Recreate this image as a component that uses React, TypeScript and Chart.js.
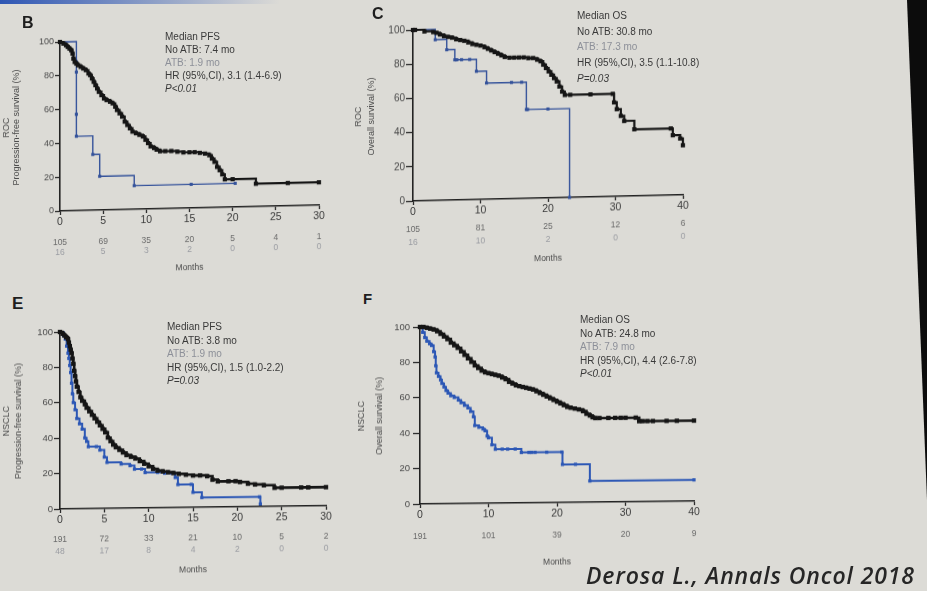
import React, { useEffect, useRef } from 'react';
import { Chart, registerables } from 'chart.js';

Chart.register(...registerables);

type Pt = [number, number];

// ---------- Panel B: ROC, progression-free survival ----------
const rocPfsNoAtb: Pt[] = [
  [0, 100], [0.4, 99], [0.7, 98], [0.9, 97], [1.1, 96], [1.3, 95], [1.45, 93], [1.55, 90], [1.7, 88], [1.9, 87],
  [2.1, 86], [2.4, 85], [2.7, 84], [3.0, 83], [3.3, 81], [3.5, 80], [3.7, 78], [3.9, 76], [4.1, 74], [4.3, 72],
  [4.5, 70], [4.8, 68], [5.1, 66], [5.4, 65], [5.8, 64], [6.1, 63], [6.4, 61], [6.6, 59], [6.9, 57], [7.2, 55],
  [7.5, 52], [7.8, 50], [8.1, 48], [8.4, 46], [8.8, 45], [9.2, 44], [9.6, 43], [9.9, 41], [10.2, 39], [10.5, 37],
  [10.9, 36], [11.2, 35], [11.6, 34], [12.2, 34], [12.9, 34], [13.6, 33.5], [14.3, 33], [15.0, 33], [15.6, 33],
  [16.2, 32.5], [16.8, 32], [17.3, 31], [17.6, 29], [17.9, 27], [18.2, 24], [18.5, 22], [18.8, 19.5], [19.1, 16.5],
  [20.0, 16.5], [22.7, 13.5], [26.4, 13.5], [30, 13.5],
];
const rocPfsAtb: Pt[] = [
  [0, 100], [1.9, 88], [1.9, 82], [1.9, 57], [1.9, 44], [3.8, 33], [4.6, 20], [8.6, 14], [15.2, 14], [20.3, 14],
];
const rocPfsTicks = [0, 5, 10, 15, 20, 25, 30];
const rocPfsRiskNoAtb = [105, 69, 35, 20, 5, 4, 1];
const rocPfsRiskAtb = [16, 5, 3, 2, 0, 0, 0];
const rocPfsNotes = ['Median PFS', 'No ATB: 7.4 mo', 'ATB: 1.9 mo', 'HR (95%,CI), 3.1 (1.4-6.9)', 'P<0.01'];

// ---------- Panel C: ROC, overall survival ----------
const rocOsNoAtb: Pt[] = [
  [0, 100], [0.3, 100], [1.7, 99], [3.0, 98.5], [3.5, 98], [4.0, 97], [4.6, 96], [5.2, 95.5], [5.8, 95], [6.4, 94],
  [7.0, 93.5], [7.6, 93], [8.2, 92], [8.8, 91], [9.4, 90.5], [10.0, 90], [10.6, 89], [11.1, 88], [11.6, 87],
  [12.1, 86], [12.6, 85], [13.1, 84], [13.6, 83], [14.3, 82.5], [15.0, 82.5], [15.7, 82.5], [16.4, 82.5], [17.1, 82],
  [17.8, 82], [18.4, 81], [18.9, 80], [19.3, 78], [19.7, 76], [20.1, 74], [20.5, 72], [20.9, 70], [21.3, 68],
  [21.7, 65], [22.1, 62], [22.5, 60], [23.3, 60], [26.3, 60], [29.6, 60], [29.8, 55], [30.2, 51], [30.8, 47],
  [31.3, 44], [32.8, 39], [38.2, 39], [38.5, 35], [39.6, 33], [40, 29],
];
const rocOsAtb: Pt[] = [
  [0, 100], [3.3, 94], [5.0, 88], [6.2, 82], [6.5, 82], [7.2, 82], [8.4, 82], [9.4, 75], [10.9, 68], [14.6, 68],
  [16.1, 68], [16.8, 52], [17.0, 52], [20.0, 52], [23.2, 0],
];
const rocOsTicks = [0, 10, 20, 30, 40];
const rocOsRiskNoAtb = [105, 81, 25, 12, 6];
const rocOsRiskAtb = [16, 10, 2, 0, 0];
const rocOsNotes = ['Median OS', 'No ATB: 30.8 mo', 'ATB: 17.3 mo', 'HR (95%,CI), 3.5 (1.1-10.8)', 'P=0.03'];

// ---------- Panel E: NSCLC, progression-free survival ----------
const nsclcPfsNoAtb: Pt[] = [
  [0, 100], [0.3, 99], [0.5, 98], [0.7, 97], [0.9, 96], [1.0, 94], [1.1, 92], [1.2, 90], [1.3, 88], [1.4, 85],
  [1.5, 82], [1.6, 78], [1.7, 75], [1.8, 72], [1.9, 69], [2.1, 66], [2.3, 63], [2.5, 61], [2.8, 59], [3.0, 57],
  [3.3, 55], [3.6, 53], [3.9, 51], [4.2, 49], [4.5, 47], [4.8, 45], [5.1, 43], [5.4, 40], [5.7, 38], [6.0, 36],
  [6.3, 34.5], [6.7, 33], [7.1, 31.5], [7.5, 30], [8.0, 29], [8.5, 28], [9.0, 26.5], [9.5, 25], [10.0, 23.5],
  [10.5, 22], [11.0, 21], [11.6, 20.5], [12.2, 20], [12.8, 19.5], [13.4, 19], [14.2, 18.5], [15.0, 18], [15.8, 18],
  [16.6, 17.5], [17.2, 15.5], [17.8, 14.5], [19.0, 14.5], [19.8, 14.5], [20.3, 14], [21.2, 13], [22.0, 12.5],
  [23.0, 12], [24.2, 10.5], [25.0, 10.5], [27.2, 10.5], [28.0, 10.5], [30, 10.5],
];
const nsclcPfsAtb: Pt[] = [
  [0, 100], [0.4, 98], [0.6, 96], [0.75, 92], [0.9, 88], [1.0, 85], [1.1, 81], [1.2, 77], [1.3, 71], [1.4, 65],
  [1.5, 60], [1.7, 56], [1.9, 51], [2.2, 48], [2.5, 45], [2.8, 40], [3.0, 38], [3.2, 35], [4.1, 35], [4.5, 33],
  [5.0, 29], [5.3, 26], [6.9, 25], [7.9, 24], [8.4, 22], [9.2, 22], [9.6, 20], [11.0, 20], [11.8, 19.5],
  [12.6, 19.5], [13.0, 17], [13.3, 13], [14.8, 13], [15.0, 8.5], [16.0, 5.5], [22.5, 5.5], [22.6, 1.5],
];
const nsclcPfsTicks = [0, 5, 10, 15, 20, 25, 30];
const nsclcPfsRiskNoAtb = [191, 72, 33, 21, 10, 5, 2];
const nsclcPfsRiskAtb = [48, 17, 8, 4, 2, 0, 0];
const nsclcPfsNotes = ['Median PFS', 'No ATB: 3.8 mo', 'ATB: 1.9 mo', 'HR (95%,CI), 1.5 (1.0-2.2)', 'P=0.03'];

// ---------- Panel F: NSCLC, overall survival ----------
const nsclcOsNoAtb: Pt[] = [
  [0, 100], [0.5, 100], [1.0, 99.5], [1.5, 99], [2.0, 98.5], [2.5, 97.5], [3.0, 96], [3.5, 94.5], [4.0, 93],
  [4.5, 91], [5.0, 89.5], [5.5, 88], [6.0, 86], [6.5, 84], [7.0, 82], [7.5, 80], [8.0, 78], [8.5, 76.5], [9.0, 75],
  [9.5, 74], [10.0, 73.5], [10.5, 73], [11.0, 72.5], [11.5, 72], [12.0, 71], [12.5, 70], [13.0, 68.5], [13.5, 67.5],
  [14.0, 66.5], [14.5, 66], [15.0, 65.5], [15.5, 65], [16.0, 64.5], [16.5, 64], [17.0, 63], [17.5, 62], [18.0, 61],
  [18.5, 60], [19.0, 59], [19.5, 58], [20.0, 57], [20.5, 56], [21.0, 55], [21.5, 54], [22.0, 53.5], [22.6, 53],
  [23.2, 52.5], [23.8, 51.5], [24.3, 50], [24.8, 49], [25.2, 48], [25.6, 47.5], [26.2, 47.5], [27.5, 47.5],
  [28.5, 47.5], [29.3, 47.5], [30.0, 47.5], [31.5, 47.5], [32.0, 45.5], [32.5, 45.5], [33.2, 45.5], [34.0, 45.5],
  [36.0, 45.5], [37.5, 45.5], [40, 45.5],
];
const nsclcOsAtb: Pt[] = [
  [0, 100], [0.4, 97], [0.7, 94], [1.0, 92], [1.4, 90.5], [1.7, 89.5], [2.0, 86], [2.2, 83], [2.3, 78], [2.4, 74],
  [2.7, 72], [3.0, 70], [3.2, 68], [3.5, 66], [3.8, 64], [4.1, 62.5], [4.5, 61], [5.0, 60], [5.6, 58.5], [6.0, 57],
  [6.5, 55.5], [7.0, 54], [7.4, 52], [7.8, 49], [8.0, 44], [8.6, 43], [9.2, 42], [9.5, 41], [9.8, 38], [10.0, 37],
  [10.5, 33], [11.0, 30.5], [12.0, 30.5], [12.8, 30.5], [13.9, 30.5], [14.8, 28.5], [15.9, 28.5], [16.3, 28.5],
  [16.8, 28.5], [18.5, 28.5], [20.7, 28.5], [20.8, 21.5], [22.7, 21.5], [24.8, 12], [40, 12],
];
const nsclcOsTicks = [0, 10, 20, 30, 40];
const nsclcOsRisk = [191, 101, 39, 20, 9];
const nsclcOsNotes = ['Median OS', 'No ATB: 24.8 mo', 'ATB: 7.9 mo', 'HR (95%,CI), 4.4 (2.6-7.8)', 'P<0.01'];

const FONT = "'Liberation Sans', Arial, sans-serif";
const BLACK = '#151515';
const BG = '#dcdbd6';

const narPlugin = {
  id: 'nar',
  afterDraw(chart: any, _args: any, opts: any) {
    if (!opts || !opts.rows) return;
    const xs = chart.scales.x;
    const ctx = chart.ctx;
    ctx.save();
    ctx.textAlign = 'center';
    ctx.textBaseline = 'middle';
    ctx.font = `${opts.size}px ${FONT}`;
    opts.rows.forEach((row: any) => {
      ctx.fillStyle = row.color;
      row.values.forEach((v: number, i: number) => {
        ctx.fillText(String(v), xs.getPixelForValue(opts.ticks[i]), chart.chartArea.bottom + row.offset);
      });
    });
    ctx.restore();
  },
};

type PanelProps = {
  left: number; top: number; width: number; height: number;
  wy: number; hx: number; skew: number;
  xMax: number; xStep: number; ticks: number[];
  noAtb: Pt[]; atb: Pt[];
  rows: { values: number[]; offset: number; color: string }[];
  yTitle: string[]; yTitleLine: number; yTitlePad: number;
  yTick: number; yTickLen: number; yTickPad: number;
  blue: string; blackW: number; blackR: number; blueW: number; blueR: number;
};

function KmPanel(p: PanelProps) {
  const ref = useRef<HTMLCanvasElement>(null);
  useEffect(() => {
    const chart = new Chart(ref.current as HTMLCanvasElement, {
      type: 'line',
      data: {
        datasets: [
          {
            data: p.noAtb.map(([x, y]) => ({ x, y })),
            borderColor: BLACK, backgroundColor: BLACK, borderWidth: p.blackW,
            stepped: true, pointStyle: 'rect', pointRadius: p.blackR, pointBorderWidth: 0,
            pointBackgroundColor: BLACK, clip: false as any,
          },
          {
            data: p.atb.map(([x, y]) => ({ x, y })),
            borderColor: p.blue, backgroundColor: p.blue, borderWidth: p.blueW,
            stepped: true, pointStyle: 'rect', pointRadius: p.blueR, pointBorderWidth: 0,
            pointBackgroundColor: p.blue, clip: false as any,
          },
        ],
      },
      options: {
        responsive: false,
        animation: false,
        devicePixelRatio: 1,
        layout: { padding: { top: 10, right: 12, left: 0, bottom: 0 } },
        plugins: {
          legend: { display: false },
          tooltip: { enabled: false },
          nar: { ticks: p.ticks, rows: p.rows, size: 8.5 },
        } as any,
        scales: {
          x: {
            type: 'linear', min: 0, max: p.xMax,
            ticks: { stepSize: p.xStep, color: '#3a3a3a', font: { family: FONT, size: 10.5 }, padding: 1, maxRotation: 0, autoSkip: false },
            grid: { drawOnChartArea: false, drawTicks: true, tickLength: 4, tickColor: '#2a2a2a', tickWidth: 1.3 },
            border: { display: true, color: '#222', width: 1.6 },
            title: { display: true, text: 'Months', color: '#4a4a4a', font: { family: FONT, size: 8.5 }, padding: { top: 0, bottom: 2 } },
            afterFit: (s: any) => { s.height = p.hx; },
          },
          y: {
            type: 'linear', min: 0, max: 100,
            ticks: { stepSize: 20, color: '#4a4a4a', font: { family: FONT, size: p.yTick }, padding: p.yTickPad },
            grid: { drawOnChartArea: false, drawTicks: true, tickLength: p.yTickLen, tickColor: '#2a2a2a', tickWidth: 1.3 },
            border: { display: true, color: '#222', width: 1.6 },
            title: {
              display: true, text: p.yTitle, color: '#4a4a4a',
              font: { family: FONT, size: 9, lineHeight: `${p.yTitleLine}px` as any },
              padding: { top: p.yTitlePad, bottom: 0 },
            },
            afterFit: (s: any) => { s.width = p.wy; },
          },
        } as any,
      },
      plugins: [narPlugin as any],
    });
    return () => chart.destroy();
  }, []);
  const originY = p.height - p.hx;
  return (
    <div
      style={{
        position: 'absolute', left: p.left, top: p.top, width: p.width, height: p.height,
        transform: `skewY(${-p.skew}deg)`, transformOrigin: `${p.wy}px ${originY}px`,
      }}
    >
      <canvas ref={ref} width={p.width} height={p.height} style={{ width: p.width, height: p.height, display: 'block' }} />
    </div>
  );
}

function Notes({ left, top, lh, size, lines }: { left: number; top: number; lh: number; size: number; lines: string[] }) {
  return (
    <div style={{ position: 'absolute', left, top, fontFamily: FONT, fontSize: size, lineHeight: `${lh}px`, color: '#3a3a3a', whiteSpace: 'nowrap' }}>
      <div>{lines[0]}</div>
      <div>{lines[1]}</div>
      <div style={{ color: '#8d9099' }}>{lines[2]}</div>
      <div>{lines[3]}</div>
      <div style={{ fontStyle: 'italic' }}>{lines[4]}</div>
    </div>
  );
}

function Letter({ left, top, size, text }: { left: number; top: number; size: number; text: string }) {
  return (
    <div style={{ position: 'absolute', left, top, fontFamily: FONT, fontWeight: 700, fontSize: size, lineHeight: 1, color: '#1e1e1e' }}>{text}</div>
  );
}

const NAR1 = '#6a6a6a';
const NAR2 = '#9a9ca2';

export default function App() {
  return (
    <div style={{ position: 'fixed', left: 0, top: 0, width: 927, height: 591, overflow: 'hidden', background: BG }}>
      <div style={{ position: 'absolute', left: 0, top: 0, width: 280, height: 4, background: 'linear-gradient(to right, #2e56b4, rgba(46,86,180,0))' }} />
      <div style={{ position: 'absolute', left: 880, top: 0, width: 47, height: 591, background: '#0c0c0c', clipPath: 'polygon(27px 0, 47px 0, 47px 500px)' }} />

      <KmPanel
        left={0} top={32} width={331} height={246} wy={60} hx={67} skew={1.3}
        xMax={30} xStep={5} ticks={rocPfsTicks} noAtb={rocPfsNoAtb} atb={rocPfsAtb}
        rows={[{ values: rocPfsRiskNoAtb, offset: 32, color: NAR1 }, { values: rocPfsRiskAtb, offset: 42, color: NAR2 }]}
        yTitle={['ROC', 'Progression-free survival (%)']} yTitleLine={10} yTitlePad={2}
        yTick={9} yTickLen={5} yTickPad={1}
        blue="#34529a" blackW={2.2} blackR={3} blueW={1.4} blueR={2.2}
      />
      <KmPanel
        left={350} top={20} width={345} height={249} wy={63} hx={68} skew={1.3}
        xMax={40} xStep={10} ticks={rocOsTicks} noAtb={rocOsNoAtb} atb={rocOsAtb}
        rows={[{ values: rocOsRiskNoAtb, offset: 29, color: NAR1 }, { values: rocOsRiskAtb, offset: 42, color: NAR2 }]}
        yTitle={['ROC', 'Overall survival (%)']} yTitleLine={13} yTitlePad={2.5}
        yTick={10} yTickLen={7} yTickPad={1}
        blue="#34529a" blackW={2.2} blackR={3} blueW={1.4} blueR={2.2}
      />
      <KmPanel
        left={0} top={322} width={338} height={257} wy={60} hx={70} skew={0.7}
        xMax={30} xStep={5} ticks={nsclcPfsTicks} noAtb={nsclcPfsNoAtb} atb={nsclcPfsAtb}
        rows={[{ values: nsclcPfsRiskNoAtb, offset: 31, color: NAR1 }, { values: nsclcPfsRiskAtb, offset: 43, color: NAR2 }]}
        yTitle={['NSCLC', 'Progression-free survival (%)']} yTitleLine={12} yTitlePad={1}
        yTick={9.5} yTickLen={6} yTickPad={1}
        blue="#2c57b5" blackW={2.6} blackR={3.1} blueW={2} blueR={2.3}
      />
      <KmPanel
        left={350} top={317} width={356} height={254} wy={70} hx={67} skew={0.6}
        xMax={40} xStep={10} ticks={nsclcOsTicks} noAtb={nsclcOsNoAtb} atb={nsclcOsAtb}
        rows={[{ values: nsclcOsRisk, offset: 33, color: NAR1 }]}
        yTitle={['NSCLC', 'Overall survival (%)']} yTitleLine={18} yTitlePad={3}
        yTick={9.5} yTickLen={7} yTickPad={3}
        blue="#2c57b5" blackW={2.6} blackR={3.1} blueW={2} blueR={2.3}
      />

      <Letter left={22} top={15} size={16} text="B" />
      <Letter left={372} top={6} size={16} text="C" />
      <Letter left={12} top={295} size={17} text="E" />
      <Letter left={363} top={291} size={15} text="F" />

      <Notes left={165} top={30} lh={13} size={10} lines={rocPfsNotes} />
      <Notes left={577} top={8} lh={15.7} size={10} lines={rocOsNotes} />
      <Notes left={167} top={320} lh={13.5} size={10} lines={nsclcPfsNotes} />
      <Notes left={580} top={313} lh={13.5} size={10} lines={nsclcOsNotes} />

      <div style={{ position: 'absolute', left: 586, top: 559, fontFamily: "'Open Sans', sans-serif", fontStyle: 'italic', fontWeight: 600, fontSize: 23, letterSpacing: 0.9, color: '#262626', whiteSpace: 'nowrap' }}>
        Derosa L., Annals Oncol 2018
      </div>
    </div>
  );
}
